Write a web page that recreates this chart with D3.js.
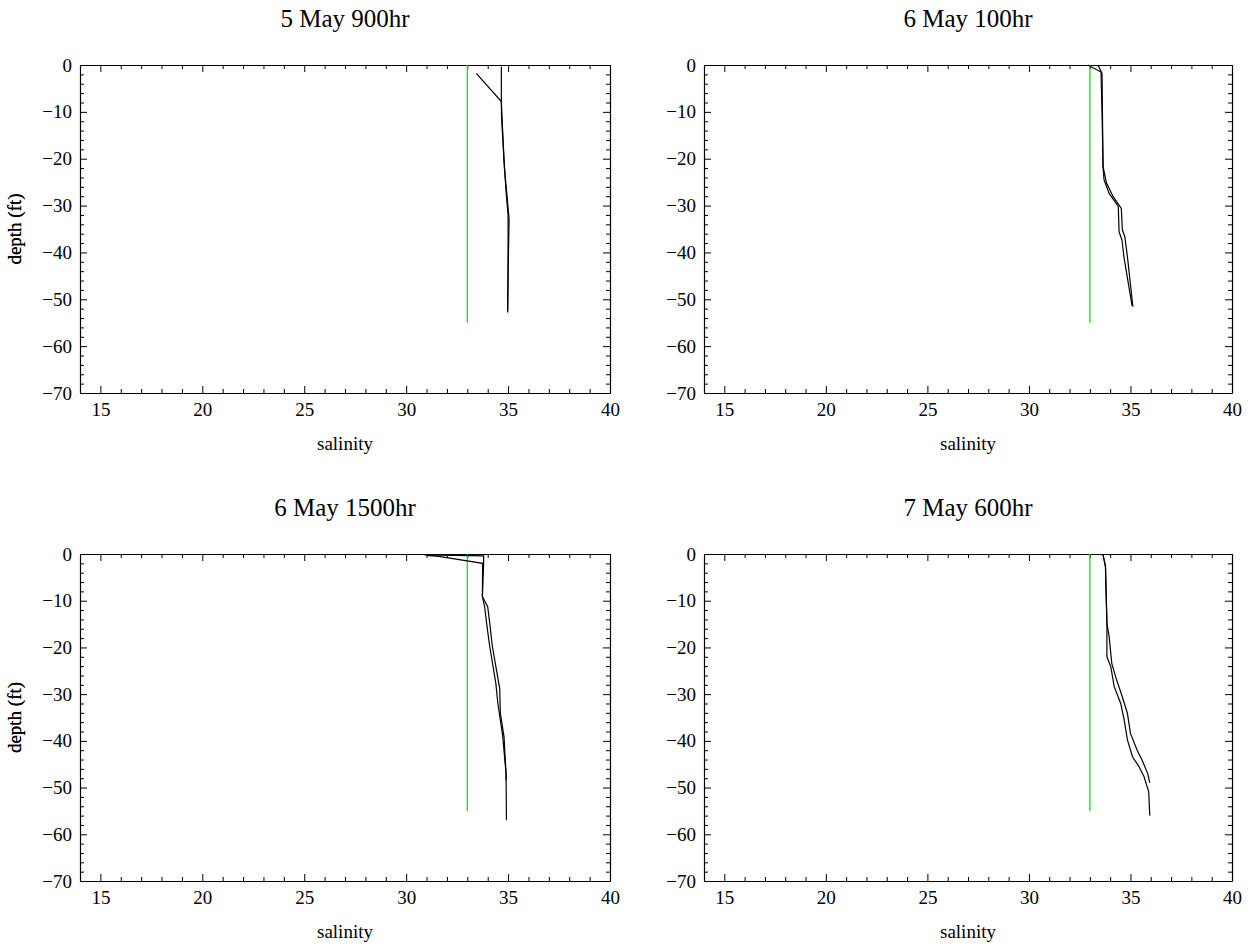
<!DOCTYPE html>
<html>
<head>
<meta charset="utf-8">
<script src="https://cdn.jsdelivr.net/npm/d3@7"></script>
<style>
  body { margin: 0; background: #fff; }
  text { font-family: "Liberation Serif", "Times New Roman", serif; fill: #000; }
</style>
</head>
<body>
<div id="chart"></div>
<script>
// Datos: perfiles de salinidad (salinidad, profundidad)

const titles = ["5 May 900hr", "6 May 100hr", "6 May 1500hr", "7 May 600hr"];

// linea de referencia (verde)
const refSalinity = 33;
const refDepth = [0, -55];

const p1Down = [[34.67, -0.3], [34.67, -7.8], [34.7, -11], [34.8, -20], [34.9, -27], [35.0, -32], [35.0, -40], [34.98, -52.8]];
const p1Up = [[33.44, -1.8], [34.67, -7.8], [34.68, -11], [34.82, -22], [34.95, -28], [35.05, -33], [35.02, -40], [34.98, -52.5]];

const p2Down = [[32.9, 0], [33.55, -1.5], [33.6, -10], [33.65, -21.7], [33.82, -25.2], [34.15, -28.1], [34.55, -30.6], [34.6, -35.2], [34.72, -36.6], [34.85, -40.9], [35.12, -51.6]];
const p2Up = [[33.4, 0], [33.6, -1.8], [33.62, -10], [33.65, -21.7], [33.7, -24.5], [33.95, -27.4], [34.4, -30.2], [34.44, -35.6], [34.58, -37.3], [34.68, -41], [35.08, -51.4]];

const p3Down = [[30.9, -0.2], [33.8, -0.4], [33.8, -2], [33.74, -9.1], [34.0, -11.3], [34.1, -14.8], [34.23, -19.8], [34.59, -28.8], [34.62, -34.1], [34.8, -39.1], [34.9, -47], [34.92, -57]];
const p3Up = [[31.0, -0.3], [31.6, -0.5], [33.75, -2.0], [33.74, -9.1], [33.85, -11.3], [33.97, -15.6], [34.1, -19.8], [34.4, -27.7], [34.5, -32], [34.74, -39.1], [34.9, -47], [34.91, -48.5]];

const p4Down = [[33.64, 0], [33.77, -2.7], [33.84, -14.8], [33.84, -22], [34.03, -24.1], [34.2, -28.4], [34.52, -32], [34.69, -35.5], [34.85, -39.8], [35.1, -43.4], [35.42, -45.5], [35.67, -47.7], [35.9, -50.9], [35.95, -56]];
const p4Up = [[33.64, 0], [33.77, -2.7], [33.84, -14.8], [33.95, -17.7], [34.08, -23.4], [34.27, -26.3], [34.6, -30.6], [34.85, -34.1], [35.0, -38.4], [35.33, -42], [35.57, -44.1], [35.85, -47], [35.95, -49]];

const profiles = [[p1Down, p1Up], [p2Down, p2Up], [p3Down, p3Up], [p4Down, p4Up]];

const xTicks = [15, 20, 25, 30, 35, 40];
const yTicks = [0, -10, -20, -30, -40, -50, -60, -70];

// Constantes de visualización
const WIDTH = 1256;
const HEIGHT = 947;
const panels = [
  { left: 80, top: 65, width: 530, height: 328 },
  { left: 704, top: 65, width: 528, height: 328 },
  { left: 80, top: 554, width: 530, height: 327 },
  { left: 704, top: 554, width: 528, height: 327 }
];

const svg = d3.select("#chart")
  .append("svg")
  .attr("width", WIDTH)
  .attr("height", HEIGHT);

const fmt = d => d < 0 ? "\u2212" + Math.abs(d) : String(d);

function drawPanel(i) {
  const p = panels[i];
  const g = svg.append("g")
    .attr("transform", `translate(${p.left}, ${p.top})`);

  const x = d3.scaleLinear().domain([14, 40]).range([0, p.width]);
  const y = d3.scaleLinear().domain([-70, 0]).range([p.height, 0]);

  const minorX = d3.range(14, 41, 1).filter(v => !xTicks.includes(v));
  const minorY = d3.range(-70, 1, 2).filter(v => !yTicks.includes(v));

  // ejes con ticks hacia dentro (marco completo)
  const axes = [
    { gen: d3.axisBottom, tr: `translate(0, ${p.height})`, scale: x, major: xTicks, minor: minorX, label: true },
    { gen: d3.axisTop, tr: `translate(0, 0)`, scale: x, major: xTicks, minor: minorX, label: false },
    { gen: d3.axisLeft, tr: `translate(0, 0)`, scale: y, major: yTicks, minor: minorY, label: true },
    { gen: d3.axisRight, tr: `translate(${p.width}, 0)`, scale: y, major: yTicks, minor: minorY, label: false }
  ];

  axes.forEach(a => {
    const major = g.append("g")
      .attr("transform", a.tr)
      .call(a.gen(a.scale)
        .tickValues(a.major)
        .tickSizeInner(-7)
        .tickSizeOuter(0)
        .tickPadding(a.gen === d3.axisLeft ? 8 : 10)
        .tickFormat(a.label ? fmt : ""));
    major.selectAll("text")
      .attr("font-size", "19px")
      .attr("font-family", "Liberation Serif");
    major.select(".domain").attr("stroke", "#000").attr("stroke-width", 1.2);

    const minor = g.append("g")
      .attr("transform", a.tr)
      .call(a.gen(a.scale)
        .tickValues(a.minor)
        .tickSizeInner(-4)
        .tickSizeOuter(0)
        .tickFormat(""));
    minor.select(".domain").remove();
  });

  // linea verde
  g.append("line")
    .attr("x1", x(refSalinity))
    .attr("x2", x(refSalinity))
    .attr("y1", y(refDepth[0]))
    .attr("y2", y(refDepth[1]))
    .attr("stroke", "#00f000")
    .attr("stroke-width", 1.3);

  const line = d3.line()
    .x(d => x(d[0]))
    .y(d => y(d[1]));

  g.selectAll("path.profile")
    .data(profiles[i])
    .join("path")
    .attr("class", "profile")
    .attr("d", line)
    .attr("fill", "none")
    .attr("stroke", "#000")
    .attr("stroke-width", 1.2);

  // titulo y etiquetas
  g.append("text")
    .attr("x", p.width / 2)
    .attr("y", -38)
    .attr("text-anchor", "middle")
    .attr("font-size", "25px")
    .text(titles[i]);

  g.append("text")
    .attr("x", p.width / 2)
    .attr("y", p.height + 57)
    .attr("text-anchor", "middle")
    .attr("font-size", "19px")
    .text("salinity");

  g.append("text")
    .attr("transform", `translate(${-p.left + 21}, ${p.height / 2}) rotate(-90)`)
    .attr("text-anchor", "middle")
    .attr("font-size", "19px")
    .text("depth (ft)");
}

for (let i = 0; i < 4; i++) drawPanel(i);
</script>
</body>
</html>
